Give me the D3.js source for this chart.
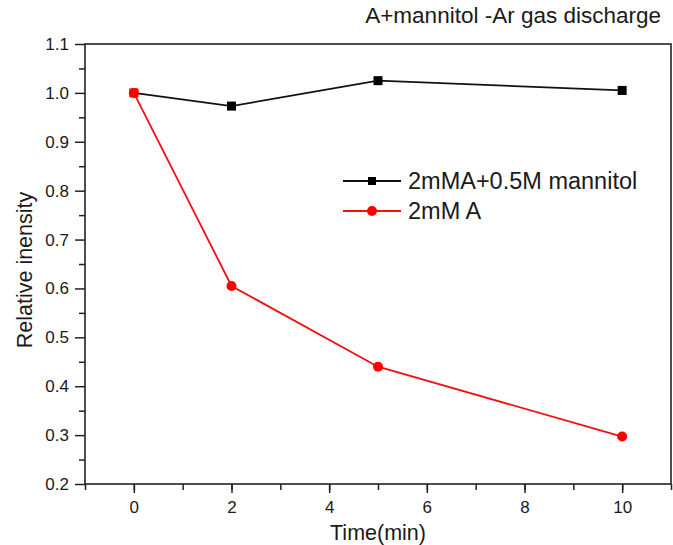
<!DOCTYPE html>
<html>
<head>
<meta charset="utf-8">
<script src="https://cdn.jsdelivr.net/npm/d3@7"></script>
<style>
  body { margin: 0; background: #fff; }
  text { font-family: "Liberation Sans", Arial, sans-serif; fill: #1a1a1a; }
</style>
</head>
<body>
<div id="grafica"></div>
<script>
// data
var times = [0, 2, 5, 10];
var mannitol = [1.0, 0.973, 1.025, 1.005];   // 2mMA+0.5M mannitol
var plainA = [1.0, 0.605, 0.44, 0.297];      // 2mM A
var xTicks = [0, 2, 4, 6, 8, 10];
var yTicks = [0.2, 0.3, 0.4, 0.5, 0.6, 0.7, 0.8, 0.9, 1.0, 1.1];

var W = 673, H = 545;
var margin = {top: 44, right: 2, bottom: 61, left: 85},
    width = W - margin.left - margin.right,
    height = H - margin.top - margin.bottom;

var svg = d3.select("#grafica")
  .append("svg")
    .attr("width", W)
    .attr("height", H)
  .append("g")
    .attr("transform", "translate(" + margin.left + "," + margin.top + ")");

var x = d3.scaleLinear().domain([-1, 11]).range([0, width]);
var y = d3.scaleLinear().domain([0.2, 1.1]).range([height, 0]);

// frame
svg.append("rect")
  .attr("width", width).attr("height", height)
  .attr("fill", "none").attr("stroke", "#222").attr("stroke-width", 1.6);

// minor ticks
svg.append("g")
  .attr("transform", "translate(0," + height + ")")
  .call(d3.axisBottom(x).tickValues(d3.range(-1, 12, 1)).tickSize(6).tickFormat(""))
  .call(g => g.select(".domain").remove());
svg.append("g")
  .call(d3.axisLeft(y).tickValues(d3.range(0.25, 1.1, 0.1)).tickSize(6).tickFormat(""))
  .call(g => g.select(".domain").remove());

// major ticks
var xAxis = svg.append("g")
  .attr("transform", "translate(0," + height + ")")
  .call(d3.axisBottom(x).tickValues(xTicks).tickSize(9).tickPadding(8).tickFormat(d3.format("d")));
var yAxis = svg.append("g")
  .call(d3.axisLeft(y).tickValues(yTicks).tickSize(10).tickPadding(6).tickFormat(d3.format(".1f")));

svg.selectAll(".domain").remove();
svg.selectAll(".tick line").attr("stroke", "#222").attr("stroke-width", 1.5);
svg.selectAll(".tick text").style("font-size", "17px").attr("fill", "#1a1a1a")
  .style("font-family", "Liberation Sans, Arial, sans-serif");

// titles
svg.append("text")
  .attr("x", width - 10).attr("y", -21)
  .attr("text-anchor", "end")
  .style("font-size", "22.5px")
  .text("A+mannitol -Ar gas discharge");

svg.append("text")
  .attr("x", x(5)).attr("y", height + 56)
  .attr("text-anchor", "middle")
  .style("font-size", "21.5px")
  .text("Time(min)");

svg.append("text")
  .attr("transform", "translate(-53," + (270 - margin.top) + ") rotate(-90)")
  .attr("text-anchor", "middle")
  .style("font-size", "21.5px")
  .text("Relative inensity");

var line = d3.line()
  .x(function(d, i) { return x(times[i]); })
  .y(function(d) { return y(d); });

// black series
svg.append("path")
  .datum(mannitol)
  .attr("fill", "none").attr("stroke", "#111").attr("stroke-width", 1.8)
  .attr("d", line);
svg.selectAll(".sq")
  .data(mannitol)
  .enter().append("rect")
  .attr("class", "sq")
  .attr("x", function(d, i) { return x(times[i]) - 4.5; })
  .attr("y", function(d) { return y(d) - 4.5; })
  .attr("width", 9).attr("height", 9)
  // where the red point sits on top, the square shows red
  .attr("fill", function(d, i) { return plainA[i] === d ? "#f00" : "#000"; });

// red series
svg.append("path")
  .datum(plainA)
  .attr("fill", "none").attr("stroke", "#f01010").attr("stroke-width", 1.8)
  .attr("d", line);
svg.selectAll(".dot")
  .data(plainA)
  .enter().append("circle")
  .attr("class", "dot")
  .attr("cx", function(d, i) { return x(times[i]); })
  .attr("cy", function(d) { return y(d); })
  .attr("r", 5)
  .attr("fill", "#f00");

// legend
var legend = [
  {name: "2mMA+0.5M mannitol", color: "#111", shape: "square"},
  {name: "2mM A", color: "#f01010", shape: "circle"}
];
var lg = svg.selectAll(".lg")
  .data(legend)
  .enter().append("g")
  .attr("class", "lg")
  .attr("transform", function(d, i) { return "translate(" + (343 - margin.left) + "," + (181 + i * 30 - margin.top) + ")"; });
lg.append("line")
  .attr("x1", 0).attr("x2", 58)
  .attr("stroke", function(d) { return d.color; }).attr("stroke-width", 1.8);
lg.each(function(d) {
  var g = d3.select(this);
  if (d.shape === "square") {
    g.append("rect").attr("x", 25).attr("y", -4).attr("width", 8).attr("height", 8).attr("fill", "#000");
  } else {
    g.append("circle").attr("cx", 29).attr("r", 5).attr("fill", "#f00");
  }
});
lg.append("text")
  .attr("x", 65).attr("y", 8)
  .style("font-size", "23.5px")
  .text(function(d) { return d.name; });
</script>
</body>
</html>
